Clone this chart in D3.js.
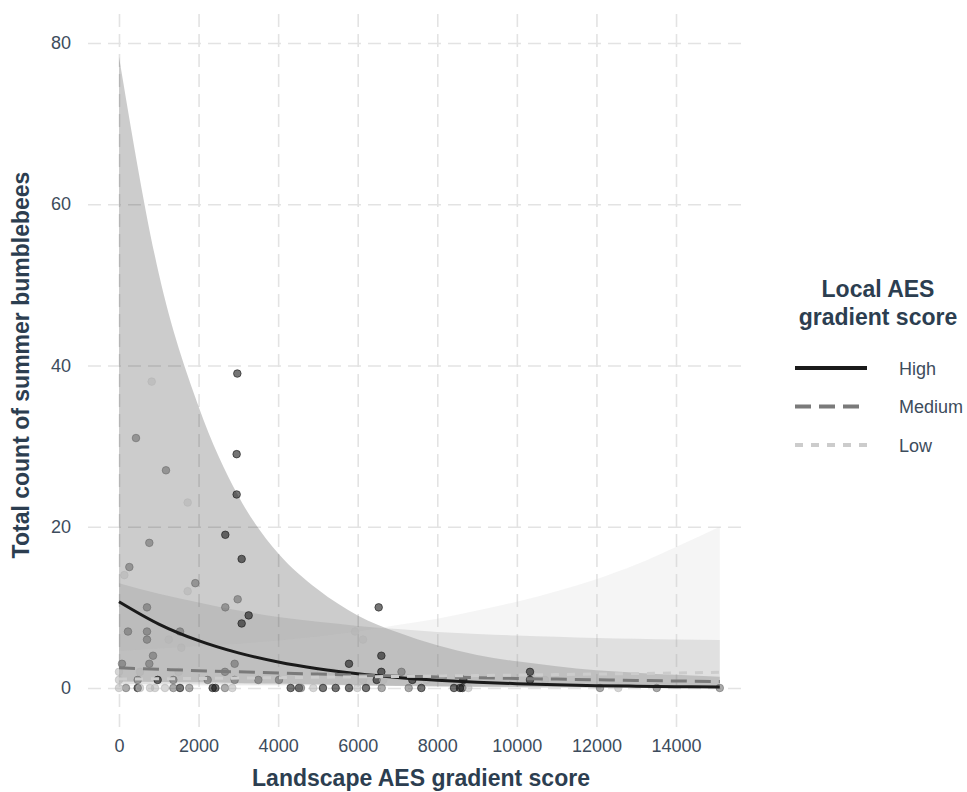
<!DOCTYPE html>
<html>
<head>
<meta charset="utf-8">
<script src="https://cdn.jsdelivr.net/npm/d3@7"></script>
<style>
  body { margin: 0; background: #fff; }
  text { font-family: "Liberation Sans", Arial, sans-serif; }
</style>
</head>
<body>
<svg id="chart" width="967" height="792"></svg>
<script>
// Fitted curves (Poisson model) with confidence bands, per local AES class
const fitX        = [0, 1000, 2000, 3000, 4000, 5000, 6000, 7000, 8000, 9000, 10000, 11000, 12000, 13000, 14000, 15100];
const highFit     = [10.7, 7.93, 5.87, 4.35, 3.22, 2.39, 1.77, 1.31, 0.97, 0.72, 0.53, 0.39, 0.29, 0.22, 0.16, 0.12];
const highLower   = [0.8, 0.75, 0.7, 0.62, 0.55, 0.45, 0.35, 0.25, 0.18, 0.13, 0.085, 0.056, 0.038, 0.026, 0.016, 0.01];
const highUpper   = [78.3, 51.4, 34.9, 23.8, 16.7, 12.2, 9.0, 6.9, 5.3, 4.1, 3.3, 2.7, 2.2, 1.9, 1.63, 1.4];
const mediumFit   = [2.50, 2.32, 2.15, 2.00, 1.85, 1.72, 1.59, 1.48, 1.37, 1.27, 1.18, 1.10, 1.02, 0.94, 0.87, 0.80];
const mediumLower = [0.48, 0.46, 0.44, 0.42, 0.39, 0.36, 0.33, 0.30, 0.27, 0.24, 0.21, 0.19, 0.17, 0.145, 0.125, 0.11];
const mediumUpper = [13.0, 11.7, 10.6, 9.6, 8.8, 8.2, 7.7, 7.3, 6.95, 6.7, 6.5, 6.35, 6.2, 6.1, 6.0, 5.95];
const lowFit      = [1.10, 1.14, 1.18, 1.23, 1.28, 1.33, 1.38, 1.43, 1.49, 1.54, 1.60, 1.66, 1.73, 1.79, 1.86, 1.95];
const lowLower    = [0.26, 0.27, 0.27, 0.28, 0.28, 0.28, 0.28, 0.27, 0.27, 0.26, 0.25, 0.24, 0.23, 0.22, 0.20, 0.19];
const lowUpper    = [4.6, 4.9, 5.2, 5.5, 5.9, 6.4, 7.0, 7.8, 8.6, 9.6, 10.7, 12.0, 13.5, 15.3, 17.5, 20.0];

// Observed sites: [landscape AES gradient score, total bumblebee count]
const highPoints = [
  [2974, 39], [2957, 29], [2957, 24], [2672, 19], [3083, 16], [3259, 9], [3083, 8], [972, 1],
  [470, 0], [1533, 0], [2355, 0], [2422, 0], [4315, 0], [4524, 0], [6527, 10], [5781, 3],
  [6594, 4], [6594, 2], [6477, 1], [5127, 0], [5446, 0], [5781, 0], [6208, 0], [7373, 1],
  [8654, 1], [10330, 2], [10330, 1], [7599, 0], [8420, 0], [8571, 0], [8629, 0]
];
const mediumPoints = [
  [427, 31], [1181, 27], [762, 18], [260, 15], [1918, 13], [2983, 11], [2672, 10], [704, 10],
  [226, 7], [704, 7], [704, 6], [1533, 7], [855, 4], [75, 3], [762, 3], [2907, 3], [470, 1],
  [1366, 1], [2229, 1], [2664, 2], [2907, 1], [3502, 1], [4021, 1], [176, 0], [1366, 0],
  [1767, 0], [2664, 0], [4574, 0], [6603, 0], [7100, 2], [7281, 0], [12090, 0], [13515, 0], [15100, 0]
];
const lowPoints = [
  [822, 38], [1726, 23], [134, 14], [1726, 12], [1249, 6], [1566, 5], [0, 2], [0, 1], [528, 2],
  [1500, 2], [0, 0], [528, 0], [779, 0], [905, 0], [1156, 0], [2848, 0], [5932, 7], [6133, 6],
  [4901, 2], [5345, 2], [6133, 1], [6644, 1], [7734, 1], [10707, 1], [4884, 0], [5990, 0],
  [8780, 0], [12550, 0]
];

const xTicks = [0, 2000, 4000, 6000, 8000, 10000, 12000, 14000];
const yTicks = [0, 20, 40, 60, 80];
const legendLabels = ["High", "Medium", "Low"];

const panel = { left: 88, right: 744, top: 10, bottom: 727 };
const svg = d3.select("#chart");

const x = d3.scaleLinear().domain([-779, 15709]).range([panel.left, panel.right]);
const y = d3.scaleLinear().domain([-4.84, 84.09]).range([panel.bottom, panel.top]);

const tickColor = "#3d4c5c";
const titleColor = "#2c3e50";

// Grid lines via axes
const yAxis = svg.append("g")
  .attr("transform", `translate(${panel.left},0)`)
  .call(d3.axisLeft(y).tickValues(yTicks).tickFormat(d3.format("d"))
    .tickSize(-(panel.right - panel.left)).tickPadding(17));
const xAxis = svg.append("g")
  .attr("transform", `translate(0,${panel.bottom})`)
  .call(d3.axisBottom(x).tickValues(xTicks).tickFormat(d3.format("d"))
    .tickSize(-(panel.bottom - panel.top)).tickPadding(12));

[yAxis, xAxis].forEach(g => {
  g.select(".domain").remove();
  g.selectAll(".tick line")
    .attr("stroke", "#e3e3e3")
    .attr("stroke-width", 1.6)
    .attr("stroke-dasharray", "13,7");
  g.selectAll(".tick text")
    .attr("fill", tickColor)
    .style("font-size", "18px")
    .style("font-family", "'Liberation Sans', Arial, sans-serif");
});

// Series definitions
const series = [
  { name: "High",   fit: highFit,   lo: highLower,   hi: highUpper,   pts: highPoints,
    line: "#1a1a1a", band: "#000000", pt: "#111111", dash: null,   ptAlpha: 0.58 },
  { name: "Medium", fit: mediumFit, lo: mediumLower, hi: mediumUpper, pts: mediumPoints,
    line: "#7a7a7a", band: "#7f7f7f", pt: "#666666", dash: "16,8", ptAlpha: 0.55 },
  { name: "Low",    fit: lowFit,    lo: lowLower,    hi: lowUpper,    pts: lowPoints,
    line: "#cccccc", band: "#cccccc", pt: "#b5b5b5", dash: "8,8",  ptAlpha: 0.55 }
];

const area = d3.area()
  .x(d => x(d.x)).y0(d => y(d.lo)).y1(d => y(d.hi))
  .curve(d3.curveMonotoneX);
const line = d3.line()
  .x(d => x(d.x)).y(d => y(d.v))
  .curve(d3.curveMonotoneX);

// Confidence bands
series.forEach(s => {
  const rows = fitX.map((xv, i) => ({ x: xv, lo: s.lo[i], hi: s.hi[i] }));
  svg.append("path").datum(rows)
    .attr("d", area)
    .attr("fill", s.band)
    .attr("fill-opacity", 0.2);
});

// Observations
series.forEach(s => {
  svg.append("g").selectAll("circle").data(s.pts).join("circle")
    .attr("cx", d => x(d[0]))
    .attr("cy", d => y(d[1]))
    .attr("r", 3.8)
    .attr("fill", s.pt)
    .attr("fill-opacity", s.ptAlpha)
    .attr("stroke", s.pt)
    .attr("stroke-opacity", s.ptAlpha)
    .attr("stroke-width", 1);
});

// Fitted lines
series.forEach(s => {
  const rows = fitX.map((xv, i) => ({ x: xv, v: s.fit[i] }));
  svg.append("path").datum(rows)
    .attr("d", line)
    .attr("fill", "none")
    .attr("stroke", s.line)
    .attr("stroke-width", 3)
    .attr("stroke-dasharray", s.dash);
});

// Axis titles
svg.append("text")
  .attr("x", (panel.left + panel.right) / 2 + 5)
  .attr("y", 786)
  .attr("text-anchor", "middle")
  .attr("fill", titleColor)
  .style("font-size", "23px").style("font-weight", "bold")
  .text("Landscape AES gradient score");

svg.append("text")
  .attr("transform", `translate(29,${365}) rotate(-90)`)
  .attr("text-anchor", "middle")
  .attr("fill", titleColor)
  .style("font-size", "23px").style("font-weight", "bold")
  .text("Total count of summer bumblebees");

// Legend
const legend = svg.append("g");
legend.append("text")
  .attr("x", 878).attr("y", 297)
  .attr("text-anchor", "middle").attr("fill", titleColor)
  .style("font-size", "23px").style("font-weight", "bold")
  .text("Local AES");
legend.append("text")
  .attr("x", 878).attr("y", 325)
  .attr("text-anchor", "middle").attr("fill", titleColor)
  .style("font-size", "23px").style("font-weight", "bold")
  .text("gradient score");

const keyY = d3.scalePoint().domain(legendLabels).range([368, 445]);
legendLabels.forEach((lab, i) => {
  const s = series[i];
  legend.append("line")
    .attr("x1", 795).attr("x2", 867)
    .attr("y1", keyY(lab)).attr("y2", keyY(lab))
    .attr("stroke", s.line)
    .attr("stroke-width", 4)
    .attr("stroke-dasharray", s.dash);
  legend.append("text")
    .attr("x", 899).attr("y", keyY(lab) + 6.5)
    .attr("fill", tickColor)
    .style("font-size", "18px")
    .text(lab);
});
</script>
</body>
</html>
